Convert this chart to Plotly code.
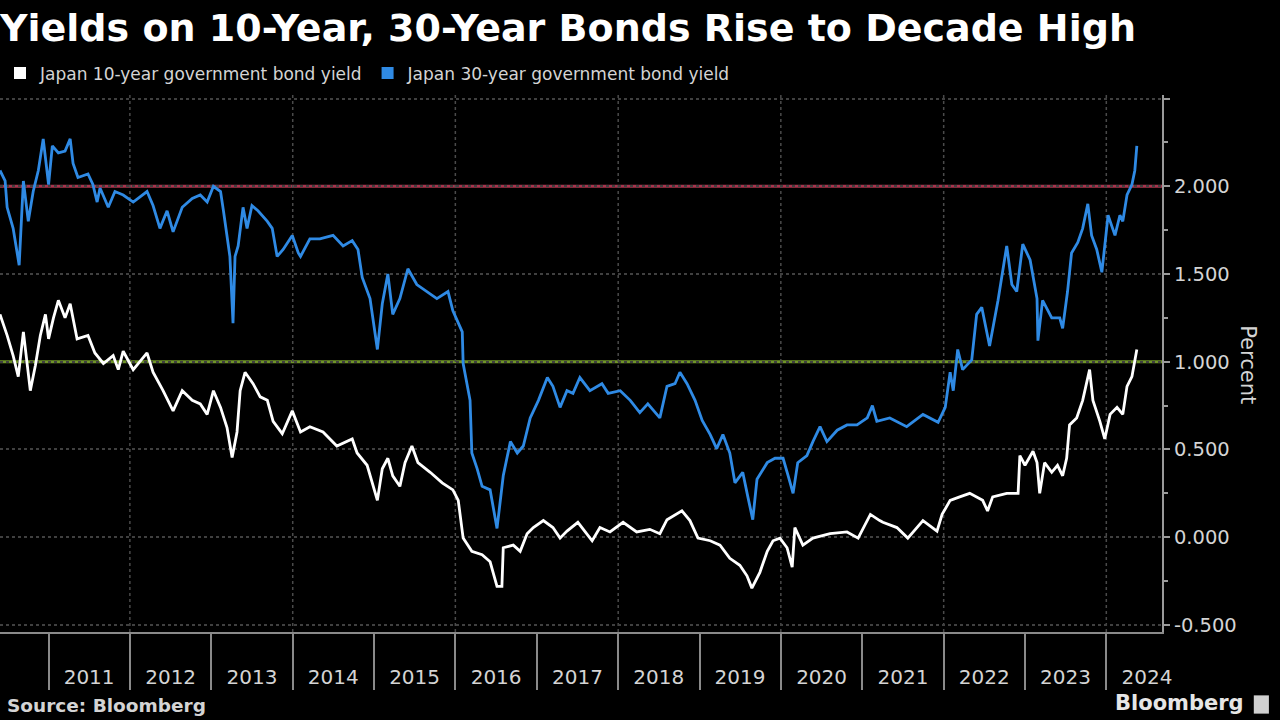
import plotly.graph_objects as go

# Japan 30-year JGB yield
jgb30_dates = [
    "2010-05-28", "2010-06-20", "2010-06-29", "2010-07-26", "2010-08-22", "2010-09-10", "2010-10-02",
    "2010-10-24", "2010-11-16", "2010-12-08", "2011-01-01", "2011-01-18", "2011-02-14", "2011-03-16",
    "2011-04-08", "2011-04-21", "2011-05-13", "2011-06-27", "2011-07-19", "2011-08-07", "2011-08-20",
    "2011-09-26", "2011-10-26", "2011-12-02", "2012-01-16", "2012-03-18", "2012-04-14", "2012-05-15",
    "2012-06-16", "2012-07-13", "2012-08-23", "2012-10-07", "2012-11-12", "2012-12-13", "2013-01-10",
    "2013-02-11", "2013-02-24", "2013-03-25", "2013-04-08", "2013-04-17", "2013-05-01", "2013-05-23",
    "2013-06-10", "2013-07-02", "2013-07-29", "2013-09-09", "2013-10-01", "2013-10-23", "2013-11-19",
    "2013-12-30", "2014-01-26", "2014-02-05", "2014-03-19", "2014-05-03", "2014-07-01", "2014-08-15",
    "2014-09-25", "2014-10-21", "2014-11-09", "2014-12-14", "2015-01-16", "2015-02-07", "2015-03-04",
    "2015-03-26", "2015-04-27", "2015-06-02", "2015-07-12", "2015-08-26", "2015-10-10", "2015-11-29",
    "2015-12-21", "2016-02-01", "2016-02-05", "2016-03-07", "2016-03-15", "2016-04-08", "2016-04-30",
    "2016-06-05", "2016-07-06", "2016-08-03", "2016-09-04", "2016-10-05", "2016-11-01", "2016-12-02",
    "2017-01-08", "2017-02-17", "2017-03-14", "2017-04-15", "2017-05-16", "2017-06-12", "2017-07-13",
    "2017-08-27", "2017-10-20", "2017-11-17", "2018-01-10", "2018-02-24", "2018-04-08", "2018-05-14",
    "2018-07-07", "2018-08-08", "2018-09-13", "2018-10-05", "2018-11-06", "2018-12-12", "2019-01-13",
    "2019-02-18", "2019-03-19", "2019-04-16", "2019-05-17", "2019-06-09", "2019-07-14", "2019-08-06",
    "2019-08-28", "2019-09-16", "2019-11-01", "2019-12-06", "2020-01-11", "2020-02-03", "2020-02-25",
    "2020-03-17", "2020-04-27", "2020-05-24", "2020-06-25", "2020-07-26", "2020-09-10", "2020-10-24",
    "2020-12-08", "2021-01-23", "2021-02-15", "2021-03-07", "2021-05-04", "2021-07-19", "2021-09-30",
    "2021-12-07", "2022-01-08", "2022-01-30", "2022-02-13", "2022-03-05", "2022-03-27", "2022-05-07",
    "2022-05-29", "2022-06-21", "2022-07-26", "2022-09-02", "2022-09-19", "2022-10-11", "2022-11-03",
    "2022-11-25", "2022-12-22", "2023-01-24", "2023-02-24", "2023-02-28", "2023-03-21", "2023-05-01",
    "2023-06-06", "2023-06-19", "2023-07-11", "2023-07-29", "2023-08-26", "2023-09-17", "2023-10-10",
    "2023-10-27", "2023-11-19", "2023-12-12", "2023-12-25", "2024-01-09", "2024-02-09", "2024-03-02",
    "2024-03-15", "2024-04-03", "2024-04-25", "2024-05-08", "2024-05-17",
]
jgb30_vals = [
    2.09, 2.03, 1.88, 1.76, 1.55, 2.03, 1.80,
    1.97, 2.09, 2.27, 2.01, 2.23, 2.19, 2.20,
    2.27, 2.13, 2.05, 2.07, 2.01, 1.91, 1.99,
    1.88, 1.97, 1.95, 1.91, 1.97, 1.89, 1.76,
    1.86, 1.74, 1.88, 1.93, 1.95, 1.91, 2.00,
    1.97, 1.86, 1.60, 1.22, 1.60, 1.66, 1.88,
    1.76, 1.89, 1.86, 1.80, 1.76, 1.60, 1.64,
    1.72, 1.62, 1.60, 1.70, 1.70, 1.72, 1.66,
    1.69, 1.64, 1.48, 1.36, 1.07, 1.33, 1.50,
    1.27, 1.36, 1.53, 1.44, 1.40, 1.36, 1.40,
    1.29, 1.17, 0.99, 0.78, 0.48, 0.39, 0.29,
    0.27, 0.05, 0.35, 0.545, 0.48, 0.52, 0.68,
    0.78, 0.91, 0.86, 0.74, 0.835, 0.82, 0.91,
    0.835, 0.875, 0.82, 0.835, 0.78, 0.71, 0.76,
    0.68, 0.86, 0.875, 0.94, 0.875, 0.78, 0.665,
    0.585, 0.505, 0.585, 0.48, 0.31, 0.37, 0.23,
    0.10, 0.33, 0.425, 0.45, 0.45, 0.35, 0.25,
    0.425, 0.465, 0.545, 0.63, 0.545, 0.61, 0.64,
    0.64, 0.68, 0.75, 0.66, 0.68, 0.63, 0.70,
    0.655, 0.74, 0.94, 0.835, 1.07, 0.955, 1.01,
    1.27, 1.31, 1.09, 1.35, 1.48, 1.66, 1.44,
    1.40, 1.67, 1.58, 1.36, 1.12, 1.35, 1.25,
    1.25, 1.19, 1.40, 1.62, 1.68, 1.76, 1.90,
    1.72, 1.64, 1.51, 1.66, 1.835, 1.72, 1.835,
    1.80, 1.95, 2.01, 2.09, 2.23,
]

# Japan 10-year JGB yield
jgb10_dates = [
    "2010-05-28", "2010-06-29", "2010-07-26", "2010-08-18", "2010-09-10", "2010-10-11", "2010-11-03",
    "2010-11-25", "2010-12-18", "2011-01-01", "2011-01-23", "2011-02-14", "2011-03-16", "2011-04-08",
    "2011-05-09", "2011-06-27", "2011-07-28", "2011-09-04", "2011-10-18", "2011-11-10", "2011-12-02",
    "2012-01-16", "2012-03-18", "2012-04-14", "2012-05-29", "2012-07-13", "2012-08-23", "2012-10-07",
    "2012-11-12", "2012-12-13", "2013-01-10", "2013-02-11", "2013-03-12", "2013-04-04", "2013-04-26",
    "2013-05-10", "2013-06-01", "2013-07-07", "2013-08-08", "2013-09-09", "2013-10-05", "2013-11-15",
    "2013-12-30", "2014-01-26", "2014-02-05", "2014-03-19", "2014-05-17", "2014-07-18", "2014-09-25",
    "2014-10-17", "2014-12-01", "2015-01-16", "2015-02-07", "2015-03-04", "2015-03-26", "2015-04-27",
    "2015-05-20", "2015-06-20", "2015-07-17", "2015-09-10", "2015-11-03", "2015-12-21", "2016-01-14",
    "2016-02-05", "2016-03-15", "2016-04-30", "2016-06-05", "2016-07-06", "2016-07-28", "2016-08-03",
    "2016-09-17", "2016-10-18", "2016-11-18", "2016-12-16", "2017-01-30", "2017-03-14", "2017-04-15",
    "2017-05-16", "2017-07-04", "2017-09-06", "2017-10-11", "2017-11-25", "2018-01-23", "2018-03-25",
    "2018-05-23", "2018-07-07", "2018-08-08", "2018-10-14", "2018-11-19", "2018-12-25", "2019-02-18",
    "2019-04-03", "2019-05-17", "2019-07-01", "2019-08-02", "2019-08-24", "2019-09-29", "2019-11-01",
    "2019-11-27", "2019-12-28", "2020-01-29", "2020-02-21", "2020-03-04", "2020-04-09", "2020-05-24",
    "2020-08-09", "2020-10-24", "2020-12-13", "2021-02-06", "2021-03-20", "2021-04-03", "2021-06-05",
    "2021-07-24", "2021-09-30", "2021-12-02", "2021-12-25", "2022-01-30", "2022-03-14", "2022-04-28",
    "2022-06-25", "2022-07-17", "2022-08-09", "2022-10-11", "2022-12-01", "2022-12-09", "2023-01-01",
    "2023-02-06", "2023-02-24", "2023-03-08", "2023-03-30", "2023-05-01", "2023-05-27", "2023-06-19",
    "2023-07-07", "2023-07-20", "2023-08-21", "2023-09-17", "2023-10-18", "2023-11-02", "2023-12-03",
    "2023-12-25", "2024-01-18", "2024-02-18", "2024-03-15", "2024-04-03", "2024-04-25", "2024-05-08",
    "2024-05-17",
]
jgb10_vals = [
    1.27, 1.15, 1.035, 0.915, 1.17, 0.835, 0.98,
    1.15, 1.27, 1.13, 1.25, 1.35, 1.25, 1.33,
    1.13, 1.15, 1.05, 0.99, 1.035, 0.955, 1.06,
    0.955, 1.05, 0.94, 0.835, 0.72, 0.835, 0.78,
    0.76, 0.70, 0.835, 0.74, 0.625, 0.455, 0.60,
    0.835, 0.94, 0.875, 0.80, 0.78, 0.66, 0.59,
    0.72, 0.625, 0.60, 0.63, 0.60, 0.52, 0.56,
    0.48, 0.41, 0.21, 0.39, 0.45, 0.35, 0.29,
    0.425, 0.52, 0.425, 0.37, 0.31, 0.27, 0.21,
    -0.005, -0.08, -0.10, -0.14, -0.28, -0.28, -0.06,
    -0.045, -0.08, 0.02, 0.055, 0.095, 0.055, -0.005,
    0.035, 0.085, -0.02, 0.055, 0.03, 0.085, 0.03,
    0.045, 0.02, 0.10, 0.15, 0.095, -0.005, -0.02,
    -0.045, -0.12, -0.16, -0.22, -0.29, -0.20, -0.08,
    -0.02, -0.005, -0.06, -0.17, 0.055, -0.045, -0.005,
    0.02, 0.03, -0.005, 0.13, 0.095, 0.085, 0.055,
    -0.005, 0.095, 0.035, 0.13, 0.21, 0.23, 0.25,
    0.21, 0.15, 0.23, 0.25, 0.25, 0.465, 0.41,
    0.49, 0.425, 0.25, 0.425, 0.37, 0.41, 0.35,
    0.45, 0.64, 0.68, 0.78, 0.955, 0.78, 0.66,
    0.56, 0.70, 0.74, 0.70, 0.86, 0.915, 1.01,
    1.07,
]

years = list(range(2011, 2025))
y_ticks = [-0.5, 0.0, 0.5, 1.0, 1.5, 2.0, 2.5]
y_ticktext = ["-0.500", "0.000", "0.500", "1.000", "1.500", "2.000", ""]
ref_levels = [2.0, 1.0]
ref_colors = ["#a8344d", "#6f9428"]

WHITE = "#ffffff"
BLUE = "#2f8ae4"
TXT = "#d4d4d4"
FONT = "DejaVu Sans"

fig = go.Figure()
fig.add_trace(go.Scatter(x=jgb10_dates, y=jgb10_vals, mode="lines",
                         line=dict(color=WHITE, width=2.8), showlegend=False))
fig.add_trace(go.Scatter(x=jgb30_dates, y=jgb30_vals, mode="lines",
                         line=dict(color=BLUE, width=2.8), showlegend=False))
# legend entries with square keys
fig.add_trace(go.Scatter(x=[None], y=[None], mode="markers", name="Japan 10-year government bond yield",
                         marker=dict(symbol="square", size=12, color=WHITE)))
fig.add_trace(go.Scatter(x=[None], y=[None], mode="markers", name="Japan 30-year government bond yield",
                         marker=dict(symbol="square", size=12, color=BLUE)))

for lvl, c in zip(ref_levels, ref_colors):
    fig.add_shape(type="line", xref="paper", x0=0, x1=1, yref="y", y0=lvl, y1=lvl,
                  line=dict(color=c, width=3), layer="below")

# vertical grid every other year
for yr in years:
    if yr % 2 == 0:
        fig.add_shape(type="line", xref="x", x0=f"{yr}-01-01", x1=f"{yr}-01-01", yref="paper", y0=0, y1=1,
                      line=dict(color="#4a4a4a", width=1.5, dash="dot"), layer="below")

fig.update_layout(
    width=1280, height=720,
    paper_bgcolor="black", plot_bgcolor="black",
    margin=dict(l=0, r=118, t=95, b=88),
    font=dict(family=FONT, color=TXT),
    title=dict(text="<b>Yields on 10-Year, 30-Year Bonds Rise to Decade High</b>",
               x=0.0, xref="container", xanchor="left", y=0.962, yanchor="middle",
               font=dict(size=38, color="white", family=FONT)),
    legend=dict(orientation="h", x=0, y=1.04, xanchor="left", yanchor="middle",
                font=dict(size=17, color=TXT), bgcolor="rgba(0,0,0,0)", itemwidth=30),
    xaxis=dict(
        range=["2010-05-28", "2024-09-07"],
        tickvals=[f"{yr}-07-02" for yr in years], ticktext=[str(yr) for yr in years],
        ticks="", ticklabelstandoff=26, tickfont=dict(size=20, color=TXT),
        showgrid=False, zeroline=False,
        showline=True, linecolor="#8a8a8a", linewidth=2,
        minor=dict(tickmode="array", tickvals=[f"{yr}-01-01" for yr in years],
                   ticks="outside", ticklen=56, tickcolor="#8a8a8a", tickwidth=2, showgrid=False),
    ),
    yaxis=dict(
        side="right", range=[-0.54, 2.52],
        tickvals=y_ticks, ticktext=y_ticktext, tickfont=dict(size=19.5, color=TXT),
        ticks="outside", ticklen=6, tickcolor="#9a9a9a", tickwidth=2,
        showgrid=True, gridcolor="#404040", gridwidth=1.5, griddash="dot", zeroline=False,
        showline=True, linecolor="#9a9a9a", linewidth=2,
        minor=dict(tickvals=[-0.25, 0.25, 0.75, 1.25, 1.75, 2.25], ticks="outside", ticklen=4,
                   tickcolor="#9a9a9a", showgrid=False),
    ),
    annotations=[
        dict(text="Percent", xref="paper", yref="paper", x=1.086, y=0.497, textangle=90,
             showarrow=False, font=dict(size=21, color=TXT)),
        dict(text="<b>Source: Bloomberg</b>", xref="paper", yref="paper", x=0.004, y=-0.136,
             xanchor="left", yanchor="middle", showarrow=False, font=dict(size=18.5, color=TXT)),
        dict(text="<b>Bloomberg</b>", xref="paper", yref="paper", x=1.072, y=-0.133,
             xanchor="right", yanchor="middle", showarrow=False, font=dict(size=21, color="#e6e6e6")),
    ],
)
# small logo box next to the Bloomberg wordmark
fig.add_shape(type="rect", xref="paper", yref="paper", x0=1.079, x1=1.092, y0=-0.152, y1=-0.118,
              fillcolor="#d0d0d0", line=dict(width=0))

fig.write_html("out.html", config={"displayModeBar": False},
               post_script="document.body.style.margin='0';")
